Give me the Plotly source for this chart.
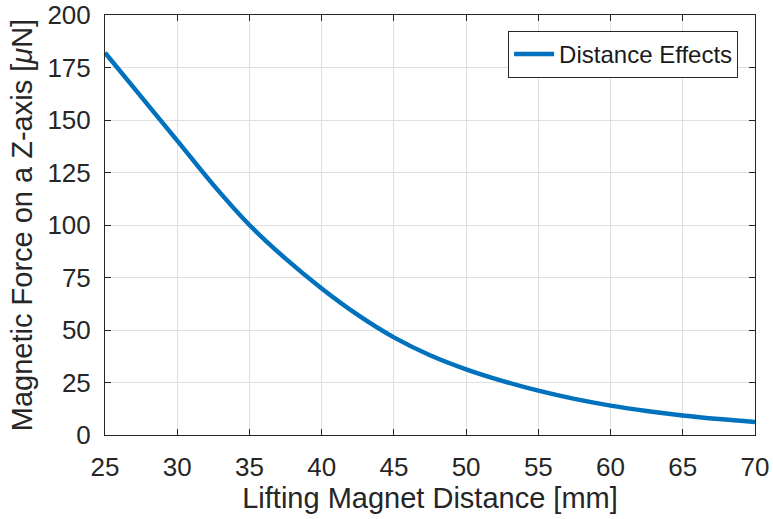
import plotly.graph_objects as go

distance_mm = [25, 27.5, 30, 32.5, 35, 37.5, 40, 42.5, 45, 47.5, 50,
               52.5, 55, 57.5, 60, 62.5, 65, 67.5, 70]
force_uN = [182.0, 161.1, 140.2, 119.1, 100.0, 84.0, 69.8, 57.2, 46.5, 38.0, 31.3,
            25.8, 21.1, 17.2, 14.0, 11.4, 9.3, 7.6, 6.2]
x_ticks = list(range(25, 71, 5))
y_ticks = list(range(0, 201, 25))

AX = "#262626"
GRID = "#dfdfdf"
FONT = "Liberation Sans, Arial, sans-serif"

fig = go.Figure()
fig.add_trace(go.Scatter(
    x=distance_mm, y=force_uN, mode="lines", name="Distance Effects",
    line=dict(color="#0072BD", width=4.5, shape="spline", smoothing=1.0),
))

fig.update_layout(
    width=773, height=519,
    paper_bgcolor="white", plot_bgcolor="white",
    margin=dict(l=105, r=18, t=15, b=84, autoexpand=False),
    font=dict(family=FONT, size=26, color=AX),
    showlegend=True,
    legend=dict(
        x=0.974, y=0.962, xanchor="right", yanchor="top",
        bordercolor=AX, borderwidth=1, bgcolor="white",
        font=dict(size=24, color="#1a1a1a"),
        itemwidth=40,
    ),
)
fig.update_xaxes(
    range=[25, 70], tickvals=x_ticks, ticktext=[str(v) for v in x_ticks],
    showline=True, linecolor=AX, linewidth=1, mirror="ticks",
    ticks="inside", ticklen=6, tickcolor=AX, automargin=False,
    ticklabeloverflow="allow",
    showgrid=True, gridcolor=GRID, gridwidth=1, zeroline=False,
    tickfont=dict(size=26, color=AX), ticklabelstandoff=9,
    title=dict(text="Lifting Magnet Distance [mm]", font=dict(size=29, color=AX), standoff=6),
)
fig.update_yaxes(
    range=[0, 200], tickvals=y_ticks, ticktext=[str(v) for v in y_ticks],
    showline=True, linecolor=AX, linewidth=1, mirror="ticks",
    ticks="inside", ticklen=6, tickcolor=AX, automargin=False,
    ticklabeloverflow="allow",
    showgrid=True, gridcolor=GRID, gridwidth=1, zeroline=False,
    tickfont=dict(size=26, color=AX), ticklabelstandoff=8,
    title=dict(text="Magnetic Force on a Z-axis [<i>μ</i>N]", font=dict(size=29, color=AX), standoff=6),
)

fig.write_html("out.html", config={"displayModeBar": False},
               post_script="document.body.style.margin='0';")
